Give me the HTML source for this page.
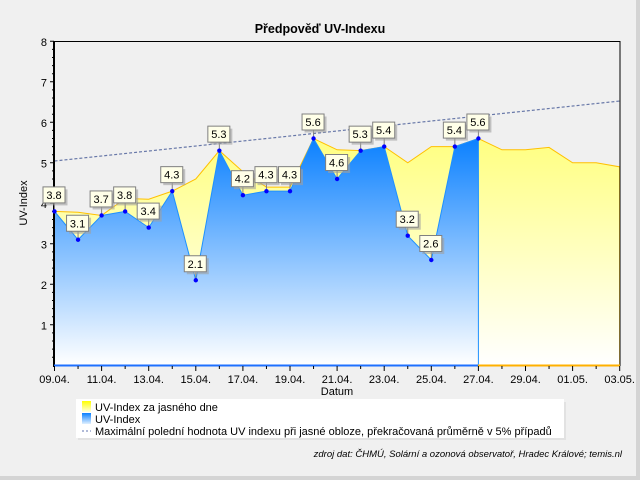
<!DOCTYPE html>
<html><head><meta charset="utf-8"><style>
body{margin:0;background:#f0f0f0}
svg{display:block;font-family:"Liberation Sans",sans-serif}
</style></head><body>
<svg width="640" height="480" viewBox="0 0 640 480" xmlns="http://www.w3.org/2000/svg">
<defs>
<linearGradient id="gb" x1="0" y1="138" x2="0" y2="365" gradientUnits="userSpaceOnUse"><stop offset="0" stop-color="#0a80ff"/><stop offset="1" stop-color="#ffffff"/></linearGradient>
<linearGradient id="gy" x1="0" y1="138" x2="0" y2="365" gradientUnits="userSpaceOnUse"><stop offset="0" stop-color="#ffff80"/><stop offset="1" stop-color="#ffffff"/></linearGradient>
<linearGradient id="lsy" x1="0" y1="0" x2="0" y2="1"><stop offset="0" stop-color="#ffff00"/><stop offset="1" stop-color="#ffffe0"/></linearGradient>
<linearGradient id="lsb" x1="0" y1="0" x2="0" y2="1"><stop offset="0" stop-color="#0a80ff"/><stop offset="1" stop-color="#e0f0ff"/></linearGradient>
<g id="bx"><line x1="0" y1="-8" x2="0" y2="0" stroke="#808080"/><rect x="-9" y="-22" width="22" height="16" fill="#a0a0a0" opacity="0.6"/><rect x="-11.5" y="-24.5" width="22" height="16" fill="#ffffe8" stroke="#808080"/></g>
</defs>
<rect x="0" y="0" width="640" height="480" fill="#f0f0f0"/>
<rect x="636" y="0" width="4" height="480" fill="#d4d4d4"/>
<rect x="0" y="476" width="640" height="4" fill="#d4d4d4"/>
<text x="320" y="33" text-anchor="middle" font-size="12.5" font-weight="bold">Předpověď UV-Indexu</text>
<polygon fill="url(#gy)" stroke="#ffc000" stroke-width="1" points="54.5,365.3 54.5,211.4 78.05,212.2 101.6,215.45 125.15,198.5 148.7,199.2 172.25,191.15 195.8,179 219.35,150.65 242.9,171.7 266.45,187.1 290,187.1 313.55,138.5 337.1,149.8 360.65,150.65 384.2,146.6 407.75,162.8 431.3,146.6 454.85,146.6 478.4,138.5 501.95,149.8 525.5,149.8 549.05,147.4 572.6,162.8 596.15,162.8 619.7,166.85 619.7,365.3"/>
<polygon fill="url(#gb)" stroke="#1e90ff" stroke-width="1" points="54.5,365.3 54.5,211.4 78.05,239.75 101.6,215.45 125.15,211.4 148.7,227.6 172.25,191.15 195.8,280.25 219.35,150.65 242.9,195.2 266.45,191.15 290,191.15 313.55,138.5 337.1,179 360.65,150.65 384.2,146.6 407.75,235.7 431.3,260 454.85,146.6 478.4,138.5 478.4,365.3"/>
<line x1="54.5" y1="161" x2="620" y2="101" stroke="#6878a8" stroke-width="1.2" stroke-dasharray="3,2"/>
<line x1="54" y1="41.5" x2="620" y2="41.5" stroke="#000" stroke-width="1"/>
<line x1="620" y1="41" x2="620" y2="366" stroke="#000" stroke-width="1"/>
<line x1="54" y1="41" x2="54" y2="367" stroke="#000" stroke-width="2"/>
<line x1="54" y1="365.5" x2="478" y2="365.5" stroke="#1e70ff" stroke-width="2"/>
<line x1="478" y1="365.5" x2="620" y2="365.5" stroke="#ffb000" stroke-width="2"/>
<g stroke="#000" stroke-width="1">
<path d="M50,41.3H54M50,81.8H54M50,122.3H54M50,162.8H54M50,203.3H54M50,243.8H54M50,284.3H54M50,324.8H54"/>
<path d="M52,49.4H54M52,57.5H54M52,65.6H54M52,73.7H54M52,89.9H54M52,98H54M52,106.1H54M52,114.2H54M52,130.4H54M52,138.5H54M52,146.6H54M52,154.7H54M52,170.9H54M52,179H54M52,187.1H54M52,195.2H54M52,211.4H54M52,219.5H54M52,227.6H54M52,235.7H54M52,251.9H54M52,260H54M52,268.1H54M52,276.2H54M52,292.4H54M52,300.5H54M52,308.6H54M52,316.7H54M52,332.9H54M52,341H54M52,349.1H54M52,357.2H54"/>
<path d="M54.5,366V371M78.05,366V369M101.6,366V371M125.15,366V369M148.7,366V371M172.25,366V369M195.8,366V371M219.35,366V369M242.9,366V371M266.45,366V369M290,366V371M313.55,366V369M337.1,366V371M360.65,366V369M384.2,366V371M407.75,366V369M431.3,366V371M454.85,366V369M478.4,366V371M501.95,366V369M525.5,366V371M549.05,366V369M572.6,366V371M596.15,366V369M619.7,366V371"/>
</g>
<g font-size="11" text-anchor="end">
<text x="47" y="46">8</text><text x="47" y="86.5">7</text><text x="47" y="127">6</text><text x="47" y="167.5">5</text><text x="47" y="208">4</text><text x="47" y="248.5">3</text><text x="47" y="289">2</text><text x="47" y="329.5">1</text>
</g>
<text transform="translate(27,203) rotate(-90)" font-size="11" text-anchor="middle">UV-Index</text>
<g font-size="11" text-anchor="middle">
<text x="54.5" y="383">09.04.</text><text x="101.6" y="383">11.04.</text><text x="148.7" y="383">13.04.</text><text x="195.8" y="383">15.04.</text><text x="242.9" y="383">17.04.</text><text x="290" y="383">19.04.</text><text x="337.1" y="383">21.04.</text><text x="384.2" y="383">23.04.</text><text x="431.3" y="383">25.04.</text><text x="478.4" y="383">27.04.</text><text x="525.5" y="383">29.04.</text><text x="572.6" y="383">01.05.</text><text x="619.7" y="383">03.05.</text>
</g>
<text x="337" y="395" font-size="11" text-anchor="middle">Datum</text>
<g font-size="11" text-anchor="middle">
<g transform="translate(54.5,211.4)"><use href="#bx"/><text x="-0.5" y="-12.5">3.8</text></g>
<g transform="translate(78.05,239.75)"><use href="#bx"/><text x="-0.5" y="-12.5">3.1</text></g>
<g transform="translate(101.6,215.45)"><use href="#bx"/><text x="-0.5" y="-12.5">3.7</text></g>
<g transform="translate(125.15,211.4)"><use href="#bx"/><text x="-0.5" y="-12.5">3.8</text></g>
<g transform="translate(148.7,227.6)"><use href="#bx"/><text x="-0.5" y="-12.5">3.4</text></g>
<g transform="translate(172.25,191.15)"><use href="#bx"/><text x="-0.5" y="-12.5">4.3</text></g>
<g transform="translate(195.8,280.25)"><use href="#bx"/><text x="-0.5" y="-12.5">2.1</text></g>
<g transform="translate(219.35,150.65)"><use href="#bx"/><text x="-0.5" y="-12.5">5.3</text></g>
<g transform="translate(242.9,195.2)"><use href="#bx"/><text x="-0.5" y="-12.5">4.2</text></g>
<g transform="translate(266.45,191.15)"><use href="#bx"/><text x="-0.5" y="-12.5">4.3</text></g>
<g transform="translate(290,191.15)"><use href="#bx"/><text x="-0.5" y="-12.5">4.3</text></g>
<g transform="translate(313.55,138.5)"><use href="#bx"/><text x="-0.5" y="-12.5">5.6</text></g>
<g transform="translate(337.1,179)"><use href="#bx"/><text x="-0.5" y="-12.5">4.6</text></g>
<g transform="translate(360.65,150.65)"><use href="#bx"/><text x="-0.5" y="-12.5">5.3</text></g>
<g transform="translate(384.2,146.6)"><use href="#bx"/><text x="-0.5" y="-12.5">5.4</text></g>
<g transform="translate(407.75,235.7)"><use href="#bx"/><text x="-0.5" y="-12.5">3.2</text></g>
<g transform="translate(431.3,260)"><use href="#bx"/><text x="-0.5" y="-12.5">2.6</text></g>
<g transform="translate(454.85,146.6)"><use href="#bx"/><text x="-0.5" y="-12.5">5.4</text></g>
<g transform="translate(478.4,138.5)"><use href="#bx"/><text x="-0.5" y="-12.5">5.6</text></g>
</g>
<g fill="#0000ff">
<circle cx="54.5" cy="211.4" r="2.2"/><circle cx="78.05" cy="239.75" r="2.2"/><circle cx="101.6" cy="215.45" r="2.2"/><circle cx="125.15" cy="211.4" r="2.2"/><circle cx="148.7" cy="227.6" r="2.2"/><circle cx="172.25" cy="191.15" r="2.2"/><circle cx="195.8" cy="280.25" r="2.2"/><circle cx="219.35" cy="150.65" r="2.2"/><circle cx="242.9" cy="195.2" r="2.2"/><circle cx="266.45" cy="191.15" r="2.2"/><circle cx="290" cy="191.15" r="2.2"/><circle cx="313.55" cy="138.5" r="2.2"/><circle cx="337.1" cy="179" r="2.2"/><circle cx="360.65" cy="150.65" r="2.2"/><circle cx="384.2" cy="146.6" r="2.2"/><circle cx="407.75" cy="235.7" r="2.2"/><circle cx="431.3" cy="260" r="2.2"/><circle cx="454.85" cy="146.6" r="2.2"/><circle cx="478.4" cy="138.5" r="2.2"/>
</g>
<rect x="78" y="402" width="488" height="38" fill="#d8d8d8" opacity="0.6"/>
<rect x="76" y="399" width="488" height="39" fill="#ffffff"/>
<rect x="82" y="401" width="9" height="11" fill="url(#lsy)"/>
<rect x="82" y="413" width="9" height="11" fill="url(#lsb)"/>
<line x1="82" y1="431" x2="91" y2="431" stroke="#8090c0" stroke-width="1.2" stroke-dasharray="2,2"/>
<g font-size="11">
<text x="95" y="411">UV-Index za jasného dne</text>
<text x="95" y="423">UV-Index</text>
<text x="95" y="435">Maximální polední hodnota UV indexu při jasné obloze, překračovaná průměrně v 5% případů</text>
</g>
<text x="622" y="457" font-size="9.5" font-style="italic" text-anchor="end">zdroj dat: ČHMÚ, Solární a ozonová observatoř, Hradec Králové; temis.nl</text>
</svg>
</body></html>
